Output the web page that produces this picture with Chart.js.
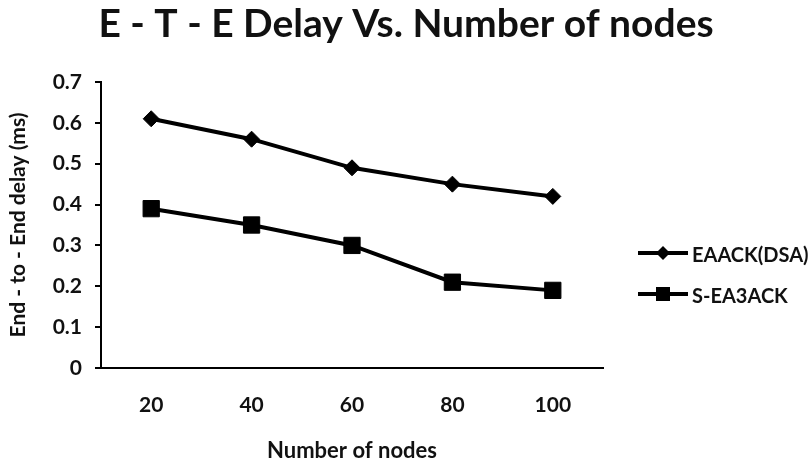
<!DOCTYPE html>
<html>
<head>
<meta charset="utf-8">
<script src="https://cdn.jsdelivr.net/npm/chart.js@4/dist/chart.umd.min.js"></script>
<style>
  html, body { margin: 0; padding: 0; background: #fff; }
  #wrap { width: 812px; height: 466px; }
</style>
</head>
<body>
<div id="wrap"><canvas id="c" width="812" height="466"></canvas></div>
<script>
// Number of nodes in the network
const nodeCounts = ['20', '40', '60', '80', '100'];
// End-to-end delay (ms) per scheme
const eaackDsa = [0.61, 0.56, 0.49, 0.45, 0.42];
const sEa3ack = [0.39, 0.35, 0.30, 0.21, 0.19];
// Y axis ticks
const delayTicks = [0, 0.1, 0.2, 0.3, 0.4, 0.5, 0.6, 0.7];

const FONT = 'Lato, "Open Sans", sans-serif';
const INK = '#111';

// Legend drawn to the right of the plot: line segment with marker, then label
const sideLegend = {
  id: 'sideLegend',
  afterDraw(chart) {
    const ctx = chart.ctx;
    const area = chart.chartArea;
    const x0 = area.right + 35, x1 = x0 + 50, xm = (x0 + x1) / 2;
    chart.data.datasets.forEach((ds, i) => {
      const y = area.top + 171 + i * 41;
      ctx.save();
      ctx.strokeStyle = ds.borderColor;
      ctx.lineWidth = 4;
      ctx.beginPath();
      ctx.moveTo(x0, y);
      ctx.lineTo(x1, y);
      ctx.stroke();
      ctx.fillStyle = ds.borderColor;
      ctx.beginPath();
      if (ds.pointStyle === 'rectRot') {
        const r = 7;
        ctx.moveTo(xm - r, y); ctx.lineTo(xm, y - r);
        ctx.lineTo(xm + r, y); ctx.lineTo(xm, y + r);
        ctx.closePath();
      } else {
        const s = 7;
        ctx.rect(xm - s, y - s, 2 * s, 2 * s);
      }
      ctx.fill();
      ctx.fillStyle = INK;
      ctx.font = 'bold 20px ' + FONT;
      ctx.textBaseline = 'middle';
      ctx.textAlign = 'left';
      ctx.fillText(ds.label, x1 + 4, y + 3);
      ctx.restore();
    });
  }
};

new Chart(document.getElementById('c'), {
  type: 'line',
  data: {
    labels: nodeCounts,
    datasets: [
      {
        label: 'EAACK(DSA)',
        data: eaackDsa,
        borderColor: '#000',
        backgroundColor: '#000',
        borderWidth: 4,
        pointStyle: 'rectRot',
        pointRadius: 8,
        pointBorderWidth: 1,
        tension: 0
      },
      {
        label: 'S-EA3ACK',
        data: sEa3ack,
        borderColor: '#000',
        backgroundColor: '#000',
        borderWidth: 4,
        pointStyle: 'rect',
        pointRadius: 11.5,
        pointBorderWidth: 1,
        tension: 0
      }
    ]
  },
  options: {
    responsive: false,
    animation: false,
    layout: { padding: 0 },
    plugins: {
      legend: { display: false },
      tooltip: { enabled: false },
      title: {
        display: true,
        text: 'E - T - E Delay Vs. Number of nodes',
        color: INK,
        font: { family: FONT, size: 39, weight: 'bold', lineHeight: 1 },
        padding: { top: 5, bottom: 38 }
      }
    },
    scales: {
      x: {
        type: 'category',
        offset: true,
        grid: { display: false, drawTicks: false },
        border: { display: true, color: '#000', width: 2 },
        ticks: { color: INK, padding: 25, font: { family: FONT, size: 21, weight: 'bold' } },
        title: {
          display: true,
          text: 'Number of nodes',
          color: INK,
          padding: { top: 0, bottom: 2 },
          font: { family: FONT, size: 22, weight: 'bold' }
        },
        afterFit(scale) { scale.height = 98; }
      },
      y: {
        type: 'linear',
        position: 'left',
        min: 0,
        max: 0.7,
        afterBuildTicks(scale) { scale.ticks = delayTicks.map(v => ({ value: v })); },
        grid: { drawOnChartArea: false, drawTicks: true, tickLength: 6, color: '#000', lineWidth: 2 },
        border: { display: true, color: '#000', width: 2 },
        ticks: {
          color: INK,
          padding: 13,
          font: { family: FONT, size: 21, weight: 'bold' },
          callback: v => (v === 0 ? '0' : v.toFixed(1))
        },
        title: {
          display: true,
          text: 'End - to - End delay (ms)',
          color: INK,
          padding: { top: 6, bottom: 0 },
          font: { family: FONT, size: 21, weight: 'bold' }
        },
        afterFit(scale) { scale.width = 101; }
      },
      legendSpace: {
        type: 'linear',
        position: 'right',
        display: true,
        grid: { display: false, drawTicks: false },
        border: { display: false },
        ticks: { display: false },
        afterFit(scale) { scale.width = 209; }
      }
    }
  },
  plugins: [sideLegend]
});
</script>
</body>
</html>
